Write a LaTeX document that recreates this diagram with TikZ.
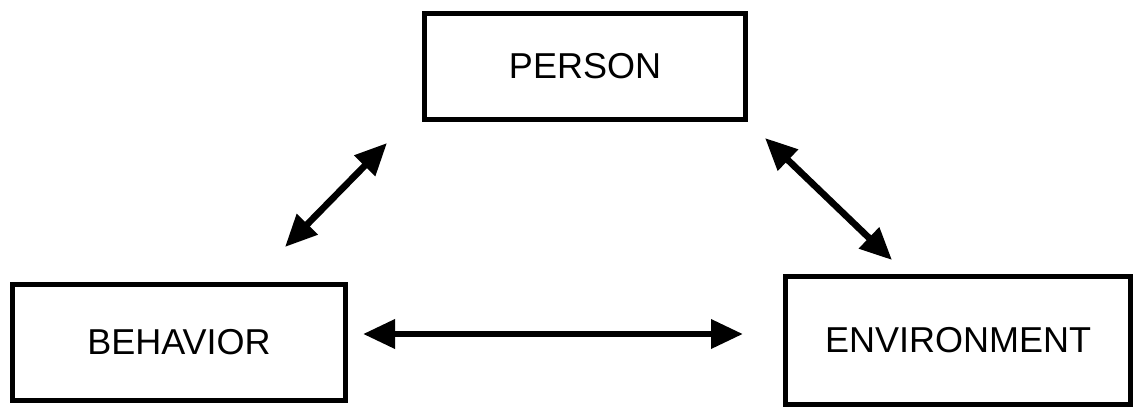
\documentclass[tikz,border=0pt]{standalone}
\usepackage{fontspec}
\setmainfont{Liberation Sans}
\usepackage{tikz}
\usetikzlibrary{arrows.meta,positioning}

\begin{document}
\begin{tikzpicture}[
    x=0.75pt, y=-0.75pt,
    factor/.style={rectangle, draw, line width=3.75pt, fill=white,
        font=\fontsize{27}{32}\selectfont, inner sep=0pt},
    biarrow/.style={{Triangle[length=24pt,width=21pt]}-{Triangle[length=24pt,width=21pt]},
        line width=5pt}
]
    \useasboundingbox (0,0) rectangle (1135,408);

    % Top: person
    \node[factor, minimum width=240.75pt, minimum height=79.5pt] (person) at (585,66.5) {PERSON};

    % Bottom left: behavior
    \node[factor, minimum width=249.75pt, minimum height=87pt] (behavior) at (179,342.5) {BEHAVIOR};

    % Bottom right: environment
    \node[factor, minimum width=258.75pt, minimum height=96pt] (environment) at (958,340.5) {ENVIRONMENT};

    % Arrow ends
    \coordinate (pb1) at (387,143);
    \coordinate (pb2) at (285,247);
    \coordinate (pe1) at (765,138);
    \coordinate (pe2) at (892,260);
    \coordinate (be1) at (363,334);
    \coordinate (be2) at (743,334);

    % Arrows
    \draw[biarrow] (pb1) -- (pb2);
    \draw[biarrow] (pe1) -- (pe2);
    \draw[biarrow] (be1) -- (be2);
\end{tikzpicture}
\end{document}
